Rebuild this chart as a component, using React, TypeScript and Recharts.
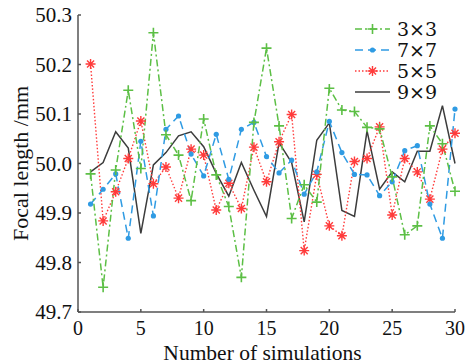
import React from 'react';
import { LineChart, Line, XAxis, YAxis } from 'recharts';

const simulations = Array.from({ length: 30 }, (_, i) => i + 1);
const focal3x3 = [49.979, 49.750, 49.987, 50.148, 49.990, 50.264, 50.058, 50.017, 49.925, 50.090, 49.977, 49.913, 49.770, 50.083, 50.233, 50.076, 49.889, 49.957, 49.922, 50.152, 50.108, 50.105, 50.073, 50.070, 49.973, 49.856, 49.874, 50.076, 50.040, 49.944];
const focal7x7 = [49.918, 49.948, 49.979, 49.849, 50.045, 49.894, 50.069, 50.096, 50.019, 49.975, 50.059, 49.968, 50.069, 50.083, 50.014, 49.981, 50.007, 49.938, 49.983, 50.085, 50.022, 49.978, 49.977, 49.935, 49.963, 50.026, 50.036, 49.918, 49.849, 50.110];
const focal5x5 = [50.201, 49.884, 49.943, 50.010, 50.086, 49.959, 49.993, 49.930, 50.029, 50.017, 49.906, 49.960, 49.909, 50.033, 49.963, 50.044, 50.099, 49.824, 49.978, 49.874, 49.854, 50.004, 50.010, 50.074, 49.896, 50.010, 49.983, 49.928, 50.029, 50.061];
const focal9x9 = [49.983, 50.002, 50.064, 50.031, 49.859, 49.997, 50.022, 50.056, 50.064, 50.034, 49.980, 49.934, 50.002, 49.946, 49.893, 50.042, 50.002, 49.882, 50.047, 50.082, 49.905, 49.893, 50.066, 49.948, 49.983, 49.963, 50.025, 50.025, 50.117, 50.000];
const xTicks = [0, 5, 10, 15, 20, 25, 30];
const yTicks = [49.7, 49.8, 49.9, 50.0, 50.1, 50.2, 50.3];
const seriesNames = ['3×3', '7×7', '5×5', '9×9'];

const GREEN = '#5cbf45';
const BLUE = '#2f9be3';
const RED = '#ff3b3b';
const BLACK = '#3c3c3c';
const AXIS = '#555555';
const SERIF = 'Liberation Serif';

const data = simulations.map((n, i) => ({
  n,
  s3: focal3x3[i],
  s7: focal7x7[i],
  s5: focal5x5[i],
  s9: focal9x9[i],
}));

const PlusDot = (p: any) => {
  const { cx, cy, index } = p;
  if (cx == null || cy == null) return <g key={`p${index}`} />;
  return (
    <path key={`p${index}`} d={`M${cx - 5},${cy}H${cx + 5}M${cx},${cy - 5}V${cy + 5}`} stroke={GREEN} strokeWidth={1.6} fill="none" />
  );
};
const CircleDot = (p: any) => {
  const { cx, cy, index } = p;
  if (cx == null || cy == null) return <g key={`c${index}`} />;
  return <circle key={`c${index}`} cx={cx} cy={cy} r={2.6} fill={BLUE} stroke="none" />;
};
const StarDot = (p: any) => {
  const { cx, cy, index } = p;
  if (cx == null || cy == null) return <g key={`s${index}`} />;
  const r = 5;
  const d2 = r * 0.7071;
  return (
    <path
      key={`s${index}`}
      d={`M${cx - r},${cy}H${cx + r}M${cx},${cy - r}V${cy + r}M${cx - d2},${cy - d2}L${cx + d2},${cy + d2}M${cx - d2},${cy + d2}L${cx + d2},${cy - d2}`}
      stroke={RED}
      strokeWidth={1.4}
      fill="none"
    />
  );
};

const legendStyles = [
  { color: GREEN, dash: '7 3 2 3', marker: 'plus' },
  { color: BLUE, dash: '8 5', marker: 'circle' },
  { color: RED, dash: '1.5 2', marker: 'star' },
  { color: BLACK, dash: undefined, marker: 'none' },
];

const LegendBox = () => (
  <div style={{ position: 'absolute', left: 297, top: 16, width: 157, height: 68, background: '#fff' }}>
    <svg width={157} height={90} style={{ position: 'absolute', left: 0, top: 0, overflow: 'visible' }}>
      {seriesNames.map((name, i) => {
        const st = legendStyles[i];
        const y = 13 + i * 21;
        const x1 = 58;
        const x2 = 93;
        const mx = (x1 + x2) / 2;
        return (
          <g key={name}>
            <line x1={x1} y1={y} x2={x2} y2={y} stroke={st.color} strokeWidth={1.5} strokeDasharray={st.dash} />
            {st.marker === 'plus' && <PlusDot cx={mx} cy={y} index={i} />}
            {st.marker === 'circle' && <CircleDot cx={mx} cy={y} index={i} />}
            {st.marker === 'star' && <StarDot cx={mx} cy={y} index={i} />}
            <text x={100} y={y + 7} fontFamily="DejaVu Serif" fontSize={19} fill="#111">{name}</text>
          </g>
        );
      })}
    </svg>
  </div>
);

const BottomTick = (p: any) => {
  const { x, y, payload } = p;
  return (
    <text x={x} y={y + 12} textAnchor="middle" fontFamily={SERIF} fontSize={20} fill="#111">
      {payload.value}
    </text>
  );
};
const LeftTick = (p: any) => {
  const { x, y, payload } = p;
  return (
    <text x={x} y={y + 7} textAnchor="end" fontFamily={SERIF} fontSize={21} fill="#111">
      {Number(payload.value).toFixed(1)}
    </text>
  );
};

export default function App() {
  return (
    <div style={{ position: 'absolute', left: 0, top: 0, width: 467, height: 364, background: '#fff' }}>
      <LineChart width={467} height={364} data={data} margin={{ top: 15, right: 12, left: 0, bottom: 0 }}>
        <XAxis
          xAxisId="b"
          dataKey="n"
          type="number"
          domain={[0, 30]}
          ticks={xTicks}
          orientation="bottom"
          height={52}
          tickSize={-3}
          tickMargin={14}
          stroke={AXIS}
          strokeWidth={1.5}
          tick={BottomTick}
          label={{
            content: (props: any) => {
              const vb = props.viewBox || { x: 78, y: 312, width: 377, height: 52 };
              return (
                <text x={vb.x + vb.width / 2 - 4} y={vb.y + 47.5} textAnchor="middle" fontFamily={SERIF} fontSize={21.5} fill="#111">
                  Number of simulations
                </text>
              );
            },
          }}
        />
        <XAxis
          xAxisId="t"
          dataKey="n"
          type="number"
          domain={[0, 30]}
          ticks={xTicks}
          orientation="top"
          height={0}
          tickSize={-3}
          stroke={AXIS}
          strokeWidth={1.5}
          tick={() => <g />}
        />
        <YAxis
          yAxisId="l"
          type="number"
          domain={[49.7, 50.3]}
          ticks={yTicks}
          width={78}
          tickSize={-3}
          tickMargin={9}
          stroke={AXIS}
          strokeWidth={1.5}
          tick={LeftTick}
          label={{
            content: (props: any) => {
              const vb = props.viewBox || { x: 0, y: 15, width: 78, height: 297 };
              const cx = 20;
              const cy = vb.y + vb.height / 2;
              return (
                <text x={cx} y={cy} transform={`rotate(-90 ${cx} ${cy})`} textAnchor="middle" dominantBaseline="central" fontFamily={SERIF} fontSize={22} fill="#111">
                  Focal length /mm
                </text>
              );
            },
          }}
        />
        <YAxis
          yAxisId="r"
          type="number"
          domain={[49.7, 50.3]}
          ticks={yTicks}
          orientation="right"
          width={0}
          tickSize={-3}
          stroke={AXIS}
          strokeWidth={1.5}
          tick={() => <g />}
        />
        <Line xAxisId="b" yAxisId="l" dataKey="s9" stroke={BLACK} strokeWidth={1.5} dot={false} isAnimationActive={false} />
        <Line xAxisId="b" yAxisId="l" dataKey="s5" stroke={RED} strokeWidth={1.4} strokeDasharray="1.5 2" dot={StarDot} isAnimationActive={false} />
        <Line xAxisId="b" yAxisId="l" dataKey="s7" stroke={BLUE} strokeWidth={1.5} strokeDasharray="8 5" dot={CircleDot} isAnimationActive={false} />
        <Line xAxisId="b" yAxisId="l" dataKey="s3" stroke={GREEN} strokeWidth={1.5} strokeDasharray="7 3 2 3" dot={PlusDot} isAnimationActive={false} />
      </LineChart>
      <LegendBox />
    </div>
  );
}
